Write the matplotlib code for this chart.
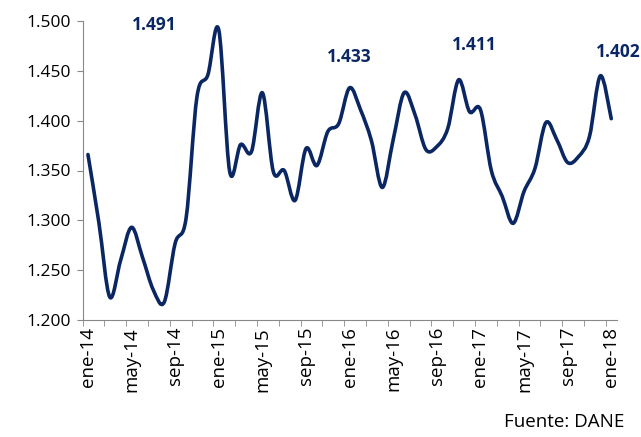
import numpy as np
import matplotlib.pyplot as plt
from matplotlib.path import Path
from matplotlib.patches import PathPatch
from matplotlib.ticker import FuncFormatter, FixedLocator

plt.rcParams['font.family'] = ['Open Sans', 'DejaVu Sans']

# ============================================================
# Datos (miles de personas, ene-14 a ene-18)
# ============================================================

meses = ['ene', 'feb', 'mar', 'abr', 'may', 'jun', 'jul', 'ago', 'sep', 'oct', 'nov', 'dic']
etiquetas = [f"{meses[i % 12]}-{14 + i // 12}" for i in range(49)]

valores = [1.366, 1.298, 1.223, 1.260, 1.293, 1.263, 1.230, 1.218, 1.277, 1.302,
           1.424, 1.446, 1.491, 1.349, 1.376, 1.369, 1.428, 1.349, 1.350, 1.320,
           1.372, 1.355, 1.389, 1.397, 1.433, 1.411, 1.380, 1.333, 1.381, 1.428,
           1.406, 1.371, 1.374, 1.392, 1.441, 1.409, 1.411, 1.350, 1.324, 1.297,
           1.329, 1.352, 1.398, 1.381, 1.358, 1.364, 1.384, 1.445, 1.402]

anotados = [12, 24, 36, 48]
pos_anot = [(6.1, 1.496), (24.0, 1.464), (35.4, 1.476), (48.6, 1.469)]

azul = '#0b2763'


def curva_suave(x, y):
    """Path Bezier tipo Excel (Catmull-Rom) a partir de los puntos."""
    verts = [(x[0], y[0])]
    codes = [Path.MOVETO]
    n = len(x)
    for i in range(n - 1):
        x0, y0 = (x[i - 1], y[i - 1]) if i > 0 else (x[i], y[i])
        x3, y3 = (x[i + 2], y[i + 2]) if i + 2 < n else (x[i + 1], y[i + 1])
        c1 = (x[i] + (x[i + 1] - x0) / 6, y[i] + (y[i + 1] - y0) / 6)
        c2 = (x[i + 1] - (x3 - x[i]) / 6, y[i + 1] - (y3 - y[i]) / 6)
        verts += [c1, c2, (x[i + 1], y[i + 1])]
        codes += [Path.CURVE4] * 3
    return Path(verts, codes)


x = np.arange(len(valores))

fig = plt.figure(figsize=(6.41, 4.37), dpi=100)
ax = fig.add_axes([82.5 / 641, 1 - 320 / 437, (616.7 - 82.5) / 641, (320 - 21) / 437])

ax.add_patch(PathPatch(curva_suave(x, valores), fill=False, edgecolor=azul,
                       linewidth=2.6, capstyle='round', joinstyle='round'))

for i, (tx, ty) in zip(anotados, pos_anot):
    ax.text(tx, ty, f"{valores[i]:.3f}", ha='center', va='center',
            fontsize=12.5, fontweight='bold', color=azul)

ax.set_xlim(-0.5, 48.5)
ax.set_ylim(1.2, 1.5)
ax.set_yticks(np.arange(1.2, 1.501, 0.05))
ax.yaxis.set_major_formatter(FuncFormatter(lambda v, p: f"{v:.3f}"))

ax.set_xticks(x[::4])
ax.set_xticklabels(etiquetas[::4], rotation=90, fontsize=13.5)
ax.xaxis.set_minor_locator(FixedLocator(np.arange(-0.5, 49, 2)))
ax.tick_params(axis='x', which='major', length=0, pad=5)
ax.tick_params(axis='x', which='minor', length=4, color='#888888')
ax.tick_params(axis='y', length=4, color='#888888', labelsize=12.5, pad=4)

for s in ['top', 'right']:
    ax.spines[s].set_visible(False)
for s in ['left', 'bottom']:
    ax.spines[s].set_color('#888888')

fig.text(624 / 641, 1 - 422 / 437, "Fuente: DANE", ha='right', va='center', fontsize=13.5)

fig.savefig('out.png', dpi=100)
